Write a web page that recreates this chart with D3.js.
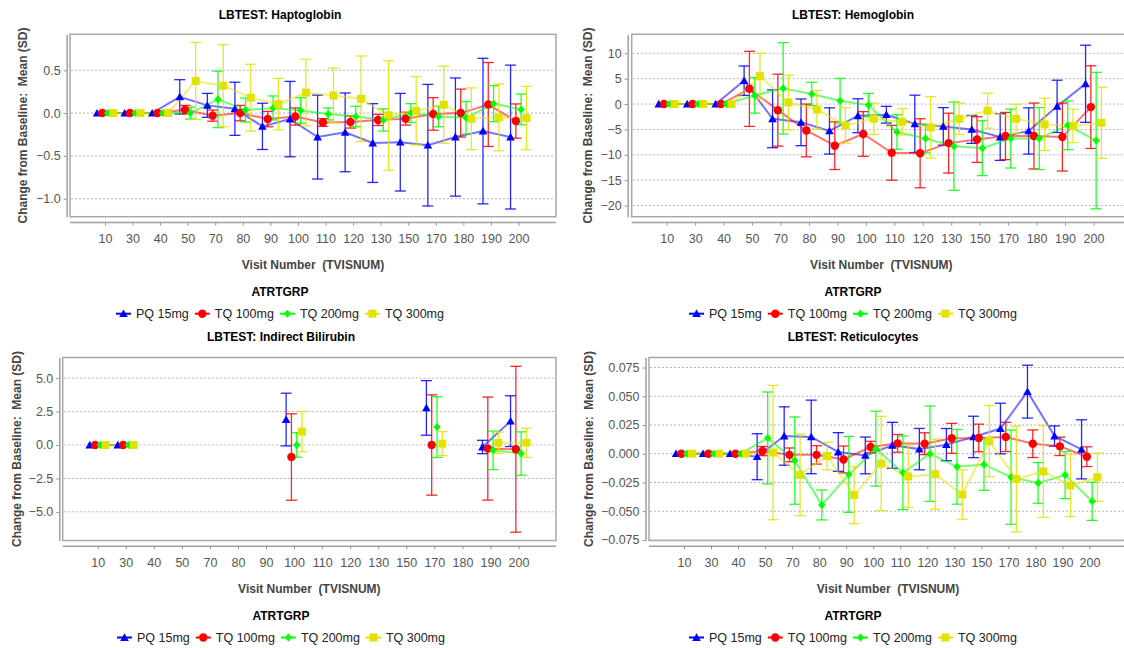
<!DOCTYPE html>
<html>
<head>
<meta charset="utf-8">
<script src="https://cdn.jsdelivr.net/npm/d3@7"></script>
<style>
  body { margin: 0; background: #fff; }
  text { font-family: "Liberation Sans", Arial, sans-serif; }
</style>
</head>
<body>
<svg id="chart" width="1124" height="648"></svg>
<script>
// categories and series
const visits = ['10','30','40','50','70','80','90','100','110','120','130','150','170','180','190','200'];
const groups = ['PQ 15mg','TQ 100mg','TQ 200mg','TQ 300mg'];

// Haptoglobin: mean and SD per group (rows follow groups)
const haptoMean = [
  [0,0,0,0.19,0.09,0.05,-0.155,-0.07,-0.28,-0.225,-0.35,-0.34,-0.375,-0.28,-0.21,-0.28],
  [0,0,0,0.04,-0.03,0.0,-0.07,-0.04,-0.11,-0.105,-0.08,-0.065,-0.01,0.0,0.10,-0.093],
  [0,0,0,0.0,0.16,0.035,0.06,0.03,-0.01,-0.04,-0.08,0.0,-0.04,-0.055,0.11,0.043],
  [0,0,0,0.375,0.32,0.18,0.105,0.24,0.205,0.167,-0.027,0.027,0.097,-0.066,-0.05,-0.058]
];
const haptoSD = [
  [0,0,0,0.20,0.14,0.31,0.27,0.44,0.49,0.46,0.46,0.57,0.71,0.69,0.85,0.84],
  [0,0,0,0.05,0.065,0.09,0.09,0.10,0.045,0.07,0.065,0.075,0.19,0.28,0.49,0.20],
  [0,0,0,0.07,0.33,0.14,0.14,0.15,0.07,0.12,0.13,0.11,0.12,0.19,0.21,0.18],
  [0,0,0,0.45,0.48,0.39,0.30,0.39,0.32,0.50,0.64,0.40,0.45,0.36,0.39,0.37]
];
const haptoTicks = [-1.0, -0.5, 0.0, 0.5];

// Hemoglobin
const hemoMean = [
  [0,0,0,4.6,-2.9,-3.6,-5.3,-2.3,-2.1,-3.9,-4.4,-5.0,-6.5,-5.3,-0.45,4.0],
  [0,0,0,3.0,-1.2,-5.2,-8.2,-5.9,-9.6,-9.7,-7.7,-7.0,-6.3,-6.3,-6.5,-0.6],
  [0,0,0,1.7,3.1,2.0,0.65,-0.2,-5.5,-6.8,-8.3,-8.7,-6.8,-6.8,-4.2,-7.2],
  [0,0,0,5.5,0.3,-1.1,-4.2,-2.9,-3.5,-4.6,-2.9,-1.3,-2.9,-4.0,-4.3,-3.7]
];
const hemoSD = [
  [0,0,0,2.9,5.7,4.6,4.55,3.35,1.65,5.65,3.7,2.75,4.6,4.55,5.15,7.6],
  [0,0,0,7.4,7.1,5.2,4.7,4.4,5.4,6.8,5.9,4.5,4.65,6.5,6.7,8.15],
  [0,0,0,3.5,9.0,2.3,4.4,2.3,3.4,2.8,8.7,5.4,5.8,6.1,4.8,13.45],
  [0,0,0,4.5,5.4,3.8,3.5,3.1,2.6,6.05,3.1,3.45,2.85,5.15,3.3,7.0]
];
const hemoTicks = [-20, -15, -10, -5, 0, 5, 10];

// Indirect Bilirubin (null = no data for that visit)
const biliMean = [
  [0,0,null,null,null,null,null,1.9,null,null,null,null,2.77,null,-0.15,1.78],
  [0,0,null,null,null,null,null,-0.9,null,null,null,null,0.0,null,-0.27,-0.32],
  [0,0,null,null,null,null,null,0.0,null,null,null,null,1.34,null,-0.4,-0.64],
  [0,0,null,null,null,null,null,1.0,null,null,null,null,0.1,null,0.17,0.17]
];
const biliSD = [
  [0,0,null,null,null,null,null,1.97,null,null,null,null,2.04,null,0.5,1.9],
  [0,0,null,null,null,null,null,3.23,null,null,null,null,3.75,null,3.85,6.2],
  [0,0,null,null,null,null,null,0.92,null,null,null,null,2.27,null,1.44,1.62],
  [0,0,null,null,null,null,null,1.5,null,null,null,null,0.9,null,0.8,1.09]
];
const biliTicks = [-5.0, -2.5, 0.0, 2.5, 5.0];

// Reticulocytes
const reticMean = [
  [0,0,0,-0.0026,0.0154,0.0146,0.0015,-0.0015,0.0073,0.004,0.0079,0.0146,0.0219,0.054,0.0154,0.0038],
  [0,0,0,0.0023,-0.001,-0.001,-0.005,0.0058,0.009,0.0087,0.0134,0.0137,0.0146,0.0087,0.0064,-0.0026],
  [0,0,0,0.0137,-0.006,-0.0446,-0.018,0.0044,-0.0166,0.0,-0.0114,-0.0093,-0.0204,-0.0254,-0.0186,-0.0414],
  [0,0,0,0.001,-0.0184,-0.002,-0.036,-0.0085,-0.0198,-0.0178,-0.0355,0.011,-0.022,-0.0154,-0.0277,-0.0204]
];
const reticSD = [
  [0,0,0,0.02,0.0254,0.032,0.0168,0.016,0.02,0.018,0.014,0.018,0.022,0.023,0.0088,0.0257],
  [0,0,0,0.004,0.006,0.008,0.0117,0.005,0.0077,0.0095,0.013,0.012,0.0127,0.012,0.008,0.0086],
  [0,0,0,0.04,0.038,0.013,0.033,0.0326,0.032,0.0415,0.0325,0.0225,0.041,0.0177,0.0205,0.0166],
  [0,0,0,0.0584,0.0355,0.012,0.0248,0.041,0.027,0.0305,0.0215,0.031,0.046,0.04,0.027,0.021]
];
const reticTicks = [-0.075, -0.05, -0.025, 0, 0.025, 0.05, 0.075];

const seriesColors = ['#0000ff', '#ff0000', '#00ff00', '#e2e200'];

const svg = d3.select('#chart');

// JFreeChart-ish marker shapes: triangle, circle, diamond, square
function markerPath(si) {
  if (si === 0) return 'M0,-4.2L4.3,3.4L-4.3,3.4Z';
  if (si === 1) return d3.symbol(d3.symbolCircle, 56)();
  if (si === 2) return 'M0,-4L3.7,0L0,4L-3.7,0Z';
  return 'M-4,-4H4V4H-4Z';
}

function drawPanel(p) {
  const g = svg.append('g');
  const x = d3.scalePoint().domain(visits).range([p.left + 35, p.right - 37.5]);
  const y = d3.scaleLinear().domain(p.domain).range([p.bottom, p.top]);
  const off = 5.3; // series offset inside a category

  // plot area
  g.append('rect')
    .attr('x', p.left).attr('y', p.top)
    .attr('width', p.right - p.left).attr('height', p.bottom - p.top)
    .attr('fill', '#fff').attr('stroke', '#a8a8a8').attr('stroke-width', 1.5);

  // horizontal grid lines
  g.append('g').selectAll('line')
    .data(p.ticks)
    .enter()
    .append('line')
    .attr('x1', p.left + 1).attr('x2', p.right - 1)
    .attr('y1', d => y(d)).attr('y2', d => y(d))
    .attr('stroke', '#b4b4b4').attr('stroke-dasharray', '2,2');

  // y axis
  const yAxis = d3.axisLeft(y)
    .tickValues(p.ticks)
    .tickFormat(p.fmt)
    .tickSizeInner(3)
    .tickSizeOuter(0)
    .tickPadding(3);
  const ya = g.append('g')
    .attr('transform', 'translate(' + p.axisX + ',0)')
    .call(yAxis);
  ya.select('.domain').attr('stroke', '#a0a0a0').attr('stroke-width', 1.5);
  ya.selectAll('.tick line').attr('stroke', '#909090');
  ya.selectAll('.tick text').attr('fill', '#555').attr('font-size', 12.5)
    .attr('font-family', '"Liberation Sans", Arial, sans-serif');

  // x axis (line drawn across the whole plot width)
  g.append('line')
    .attr('x1', p.left).attr('x2', p.right)
    .attr('y1', p.bottom + 5.8).attr('y2', p.bottom + 5.8)
    .attr('stroke', '#a0a0a0').attr('stroke-width', 1.5);
  const xAxis = d3.axisBottom(x).tickSizeInner(3).tickSizeOuter(0).tickPadding(8.4);
  const xa = g.append('g')
    .attr('transform', 'translate(0,' + (p.bottom + 5.8) + ')')
    .call(xAxis);
  xa.select('.domain').remove();
  xa.selectAll('.tick line').attr('stroke', '#909090');
  xa.selectAll('.tick text').attr('fill', '#555').attr('font-size', 12.5)
    .attr('font-family', '"Liberation Sans", Arial, sans-serif');

  // series
  const rows = p.mean.map((arr, si) => arr.map((v, ci) => ({
    x: x(visits[ci]) + (si - 1.5) * off,
    v: v,
    sd: p.sd[si][ci]
  })));

  const line = d3.line()
    .defined(d => d.v != null)
    .x(d => d.x)
    .y(d => y(d.v));

  rows.forEach((pts, si) => {
    g.append('path')
      .datum(pts)
      .attr('d', line)
      .attr('fill', 'none')
      .attr('stroke', seriesColors[si])
      .attr('stroke-width', 2)
      .attr('stroke-opacity', 0.55);

    const bars = g.append('g')
      .attr('stroke', seriesColors[si])
      .attr('stroke-width', 1.3)
      .attr('stroke-opacity', 0.85);
    pts.filter(d => d.v != null && d.sd).forEach(d => {
      const y1 = y(d.v + d.sd), y2 = y(d.v - d.sd);
      bars.append('line').attr('x1', d.x).attr('x2', d.x).attr('y1', y1).attr('y2', y2);
      bars.append('line').attr('x1', d.x - 5.5).attr('x2', d.x + 5.5).attr('y1', y1).attr('y2', y1);
      bars.append('line').attr('x1', d.x - 5.5).attr('x2', d.x + 5.5).attr('y1', y2).attr('y2', y2);
    });
  });

  rows.forEach((pts, si) => {
    g.append('g').selectAll('path')
      .data(pts.filter(d => d.v != null))
      .enter()
      .append('path')
      .attr('d', markerPath(si))
      .attr('transform', d => 'translate(' + d.x + ',' + y(d.v) + ')')
      .attr('fill', seriesColors[si]);
  });

  // titles
  g.append('text')
    .attr('x', p.center).attr('y', p.titleY)
    .attr('text-anchor', 'middle').attr('dominant-baseline', 'central')
    .attr('font-size', 12).attr('font-weight', 'bold').attr('fill', '#000')
    .text(p.title);

  g.append('text')
    .attr('transform', 'translate(' + p.yLabelX + ',' + ((p.top + p.bottom) / 2) + ') rotate(-90)')
    .attr('text-anchor', 'middle').attr('dominant-baseline', 'central')
    .attr('font-size', 12).attr('font-weight', 'bold').attr('fill', '#444')
    .attr('xml:space', 'preserve').style('white-space', 'pre')
    .text('Change from Baseline:  Mean (SD)');

  g.append('text')
    .attr('x', (p.left + p.right) / 2).attr('y', p.bottom + 48)
    .attr('text-anchor', 'middle').attr('dominant-baseline', 'central')
    .attr('font-size', 12).attr('font-weight', 'bold').attr('fill', '#444')
    .style('white-space', 'pre')
    .text('Visit Number  (TVISNUM)');

  g.append('text')
    .attr('x', p.center).attr('y', p.bottom + 75)
    .attr('text-anchor', 'middle').attr('dominant-baseline', 'central')
    .attr('font-size', 12).attr('font-weight', 'bold').attr('fill', '#000')
    .text('ATRTGRP');

  // legend
  const lg = g.append('g');
  let cx = 0;
  groups.forEach((name, si) => {
    const item = lg.append('g').attr('transform', 'translate(' + cx + ',0)');
    item.append('line').attr('x1', 0).attr('x2', 15).attr('y1', 0).attr('y2', 0)
      .attr('stroke', seriesColors[si]).attr('stroke-width', 2);
    item.append('path').attr('d', markerPath(si)).attr('transform', 'translate(7.5,0)')
      .attr('fill', seriesColors[si]);
    const t = item.append('text').attr('x', 20).attr('y', 0)
      .attr('dominant-baseline', 'central')
      .attr('font-size', 12.5).attr('fill', '#222')
      .text(name);
    cx += 20 + t.node().getComputedTextLength() + 6;
  });
  lg.attr('transform', 'translate(' + (p.center - (cx - 6) / 2) + ',' + (p.bottom + 97) + ')');
}

drawPanel({
  title: 'LBTEST: Haptoglobin', mean: haptoMean, sd: haptoSD, ticks: haptoTicks,
  fmt: d3.format('.1f'), domain: [-1.21, 0.92],
  left: 70, right: 556, top: 34.3, bottom: 216.7, axisX: 66.7,
  center: 280, titleY: 15, yLabelX: 23
});
drawPanel({
  title: 'LBTEST: Hemoglobin', mean: hemoMean, sd: hemoSD, ticks: hemoTicks,
  fmt: d3.format('d'), domain: [-22.2, 13.75],
  left: 631.7, right: 1131, top: 34.3, bottom: 216.7, axisX: 627.7,
  center: 853, titleY: 15, yLabelX: 588
});
drawPanel({
  title: 'LBTEST: Indirect Bilirubin', mean: biliMean, sd: biliSD, ticks: biliTicks,
  fmt: d3.format('.1f'), domain: [-7.14, 6.54],
  left: 62.7, right: 556, top: 357.5, bottom: 540.5, axisX: 59.3,
  center: 281, titleY: 337, yLabelX: 17
});
drawPanel({
  title: 'LBTEST: Reticulocytes', mean: reticMean, sd: reticSD, ticks: reticTicks,
  fmt: d3.format('.3f'), domain: [-0.0755, 0.0837],
  left: 649, right: 1127, top: 357.5, bottom: 540.5, axisX: 645.5,
  center: 853, titleY: 337, yLabelX: 589
});
</script>
</body>
</html>
